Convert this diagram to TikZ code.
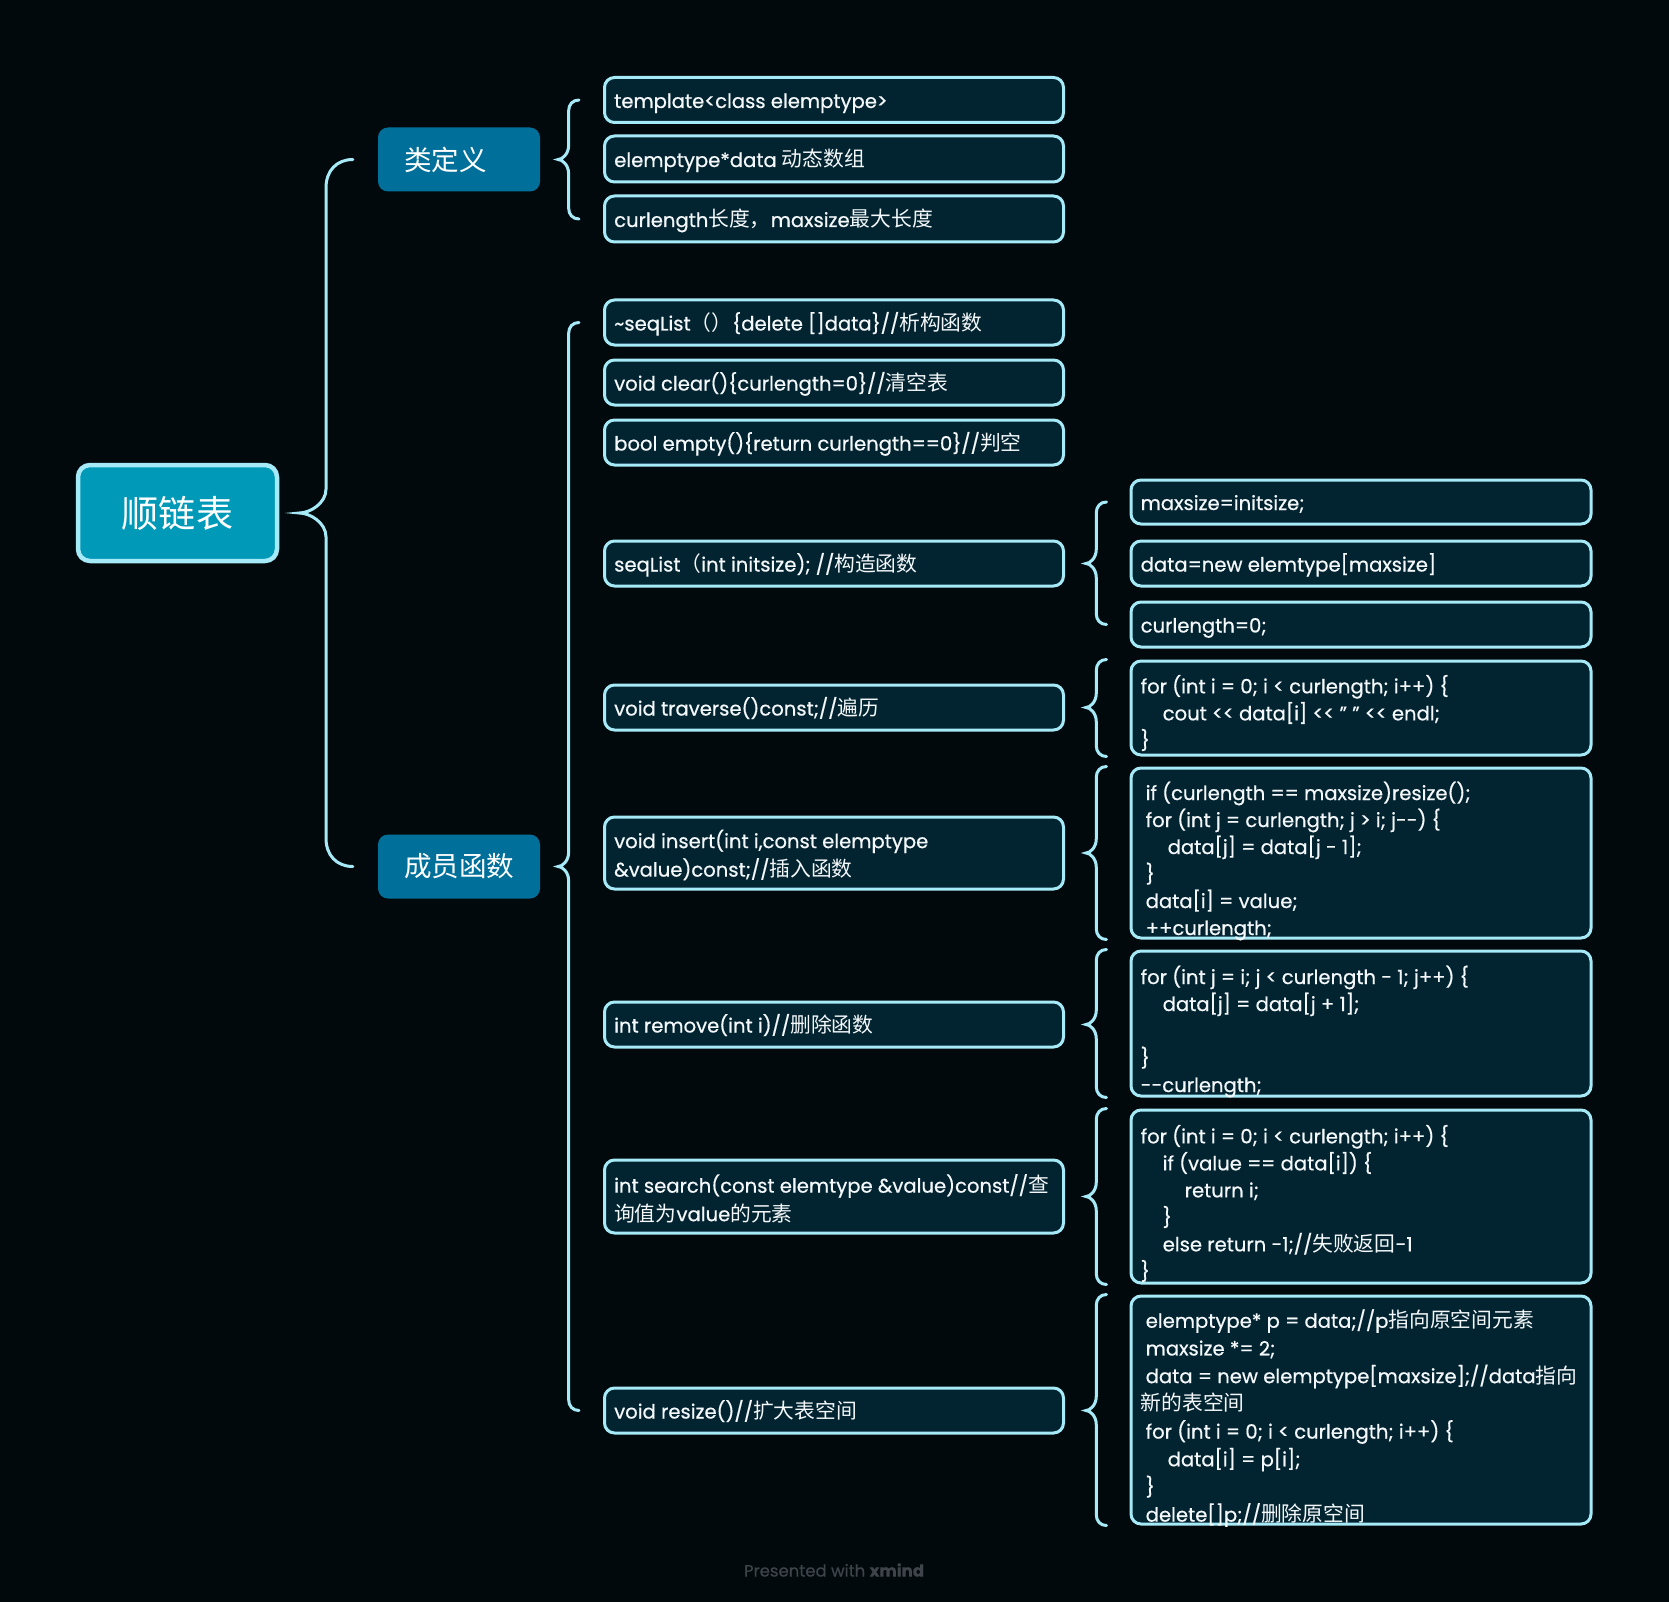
\documentclass[tikz,border=0pt]{standalone}
\usepackage{fontspec}
\setmainfont{Poppins}[FakeBold=0.6]
\newfontfamily\cjk{Noto Sans CJK SC}[Scale=1.06]
\usetikzlibrary{calc}

\definecolor{bg}{HTML}{02090D}
\definecolor{leaffill}{HTML}{022431}
\definecolor{edge}{HTML}{A6EAF8}
\definecolor{rootfill}{HTML}{0099B8}
\definecolor{topicfill}{HTML}{006F99}
\definecolor{ink}{HTML}{F4F8FA}
\definecolor{credit}{HTML}{3E444A}

\newcommand\zh[1]{{\cjk #1}}
\newcommand\codeind{\hspace*{22pt}}
\newcommand\lsp{\hspace*{5pt}}

% curly brace from a parent tip to the first and last child ends
% #1 tip, #2 top end, #3 bottom end, #4 tip curve height, #5 end curve height
\newcommand\bracelink[5]{%
  \draw[brace] let \p1=(#1), \p2=(#2), \p3=(#3), \n1={0.5*(\x1+\x2)} in
    (\p2) .. controls ({\n1+0.4*(\x2-\n1)},\y2) and (\n1,{\y2-0.4*#5pt}) .. (\n1,{\y2-#5pt})
    -- (\n1,{\y1+#4pt}) .. controls (\n1,{\y1+0.4*#4pt}) and ({\x1+0.4*(\n1-\x1)},\y1) .. (\p1)
    .. controls ({\x1+0.4*(\n1-\x1)},\y1) and (\n1,{\y1-0.4*#4pt}) .. (\n1,{\y1-#4pt})
    -- (\n1,{\y3+#5pt}) .. controls (\n1,{\y3+0.4*#5pt}) and ({\n1+0.4*(\x3-\n1)},\y3) .. (\p3);
}

\begin{document}
\begin{tikzpicture}[x=1pt,y=-1pt,
  brace/.style={draw=edge, line width=3pt, line cap=round},
  rootbox/.style={draw=edge, fill=rootfill, line width=4.5pt, rounded corners=12pt,
    minimum width=199pt, minimum height=96pt, text=white,
    font=\cjk\fontsize{35}{40}\selectfont},
  topicbox/.style={fill=topicfill, rounded corners=10pt, minimum width=162pt,
    minimum height=64pt, text=white, align=left, text width=110pt, inner xsep=26pt,
    font=\cjk\fontsize{26}{30}\selectfont},
  leafa/.style={draw=edge, fill=leaffill, line width=3pt, rounded corners=10pt,
    minimum width=459pt, inner sep=0pt},
  leafb/.style={leafa, minimum width=460pt},
  txt/.style={anchor=west, align=left, inner sep=0pt, text=ink,
    font=\fontsize{19.6}{27}\selectfont},
  one/.style={text height=20pt, text depth=4pt},
  two/.style={font=\fontsize{19.6}{28.5}\selectfont, yshift=-2pt},
  code/.style={yshift=-5pt}
]
\useasboundingbox[fill=bg] (0,0) rectangle (1669,1602);

% central topic and main branches
\node[rootbox] (root) at (177.5,513) {顺链表};
\node[topicbox] (topa) at (459,159.5) {类定义};
\node[topicbox] (topb) at (459,866.5) {成员函数};

% class definition items
\node[leafa, minimum height=45pt] (b1) at (834,100) {};
\node[txt, one] (t1) at ([xshift=11pt]b1.west) {template<class elemptype>};
\node[leafa, minimum height=46pt] (b2) at (834,159) {};
\node[txt, one] (t2) at ([xshift=11pt]b2.west) {elemptype*data \zh{动态数组}};
\node[leafa, minimum height=46pt] (b3) at (834,219) {};
\node[txt, one] (t3) at ([xshift=11pt]b3.west) {curlength\zh{长度，}maxsize\zh{最大长度}};

% member functions
\node[leafa, minimum height=45pt] (b4) at (834,322.5) {};
\node[txt, one] (t4) at ([xshift=11pt]b4.west) {\textasciitilde seqList\zh{（）}\{delete []data\}//\zh{析构函数}};
\node[leafa, minimum height=45pt] (b5) at (834,382.5) {};
\node[txt, one] (t5) at ([xshift=11pt]b5.west) {void clear()\{curlength=0\}//\zh{清空表}};
\node[leafa, minimum height=45pt] (b6) at (834,442.5) {};
\node[txt, one] (t6) at ([xshift=11pt]b6.west) {bool empty()\{return curlength==0\}//\zh{判空}};
\node[leafa, minimum height=45pt] (b7) at (834,563.5) {};
\node[txt, one] (t7) at ([xshift=11pt]b7.west) {seqList\zh{（}int initsize); //\zh{构造函数}};
\node[leafa, minimum height=45pt] (b8) at (834,707.5) {};
\node[txt, one] (t8) at ([xshift=11pt]b8.west) {void traverse()const;//\zh{遍历}};
\node[leafa, minimum height=72pt] (b9) at (834,853) {};
\node[txt, two] (t9) at ([xshift=11pt]b9.west) {void insert(int i,const elemptype\\\&value)const;//\zh{插入函数}};
\node[leafa, minimum height=45pt] (b10) at (834,1024.5) {};
\node[txt, one] (t10) at ([xshift=11pt]b10.west) {int remove(int i)//\zh{删除函数}};
\node[leafa, minimum height=73pt] (b11) at (834,1196.5) {};
\node[txt, two] (t11) at ([xshift=11pt]b11.west) {int search(const elemtype \&value)const//\zh{查}\\\zh{询值为}value\zh{的元素}};
\node[leafa, minimum height=45pt] (b12) at (834,1410.5) {};
\node[txt, one] (t12) at ([xshift=11pt]b12.west) {void resize()//\zh{扩大表空间}};

% function bodies
\node[leafb, minimum height=44pt] (c1) at (1361,502) {};
\node[txt, one] (u1) at ([xshift=11pt]c1.west) {maxsize=initsize;};
\node[leafb, minimum height=45pt] (c2) at (1361,563.5) {};
\node[txt, one] (u2) at ([xshift=11pt]c2.west) {data=new elemtype[maxsize]};
\node[leafb, minimum height=45pt] (c3) at (1361,624.5) {};
\node[txt, one] (u3) at ([xshift=11pt]c3.west) {curlength=0;};
\node[leafb, minimum height=94pt] (c4) at (1361,708) {};
\node[txt, code] (u4) at ([xshift=11pt]c4.west) {for (int i = 0; i < curlength; i++) \{\\
  \codeind cout <{}< data[i] <{}< " " <{}< endl;\\
  \}};
\node[leafb, minimum height=170pt] (c5) at (1361,853) {};
\node[txt, code, yshift=-3pt] (u5) at ([xshift=11pt]c5.west) {\lsp if (curlength == maxsize)resize();\\
  \lsp for (int j = curlength; j > i; j-{}-) \{\\
  \lsp\codeind data[j] = data[j - 1];\\
  \lsp \}\\
  \lsp data[i] = value;\\
  \lsp ++curlength;};
\node[leafb, minimum height=145pt] (c6) at (1361,1023.5) {};
\node[txt, code, yshift=-3pt] (u6) at ([xshift=11pt]c6.west) {for (int j = i; j < curlength - 1; j++) \{\\
  \codeind data[j] = data[j + 1];\\
  \mbox{}\\
  \}\\
  -{}-curlength;};
\node[leafb, minimum height=173pt] (c7) at (1361,1196.5) {};
\node[txt, code, yshift=-2pt] (u7) at ([xshift=11pt]c7.west) {for (int i = 0; i < curlength; i++) \{\\
  \codeind if (value == data[i]) \{\\
  \codeind\codeind return i;\\
  \codeind \}\\
  \codeind else return -1;//\zh{失败返回}-1\\
  \}};
\node[leafb, minimum height=228pt] (c8) at (1361,1410) {};
\node[txt, code, yshift=-3pt, font=\fontsize{19.6}{27.7}\selectfont] (u8) at ([xshift=11pt]c8.west) {\lsp elemptype* p = data;//p\zh{指向原空间元素}\\
  \lsp maxsize *= 2;\\
  \lsp data = new elemptype[maxsize];//data\zh{指向}\\
  \zh{新的表空间}\\
  \lsp for (int i = 0; i < curlength; i++) \{\\
  \lsp\codeind data[i] = p[i];\\
  \lsp \}\\
  \lsp delete[]p;//\zh{删除原空间}};

% brace end points
\coordinate (r0) at ($(root.east)+(20,0)$);
\coordinate (r1) at ($(topa.west)+(-25,0)$);
\coordinate (r2) at ($(topb.west)+(-25,0)$);
\coordinate (a0) at ($(topa.east)+(18,0)$);
\coordinate (a1) at ($(b1.west)+(-24,0)$);
\coordinate (a2) at ($(b3.west)+(-24,0)$);
\coordinate (m0) at ($(topb.east)+(18,0)$);
\coordinate (m1) at ($(b4.west)+(-24,0)$);
\coordinate (m2) at ($(b12.west)+(-24,0)$);
\coordinate (s0) at ($(b7.east)+(21,0)$);
\coordinate (s1) at ($(c1.west)+(-23,0)$);
\coordinate (s2) at ($(c3.west)+(-23,0)$);
\foreach \p/\c in {b8/c4, b9/c5, b10/c6, b11/c7, b12/c8} {
  \coordinate (\p-tip) at ($(\p.east)+(21,0)$);
  \coordinate (\c-top) at ($(\c.north west)+(-23,0)$);
  \coordinate (\c-bot) at ($(\c.south west)+(-23,0)$);
}

\bracelink{r0}{r1}{r2}{24}{28}
\bracelink{a0}{a1}{a2}{14}{11}
\bracelink{m0}{m1}{m2}{14}{11}
\bracelink{s0}{s1}{s2}{14}{11}
\bracelink{b8-tip}{c4-top}{c4-bot}{14}{11}
\bracelink{b9-tip}{c5-top}{c5-bot}{14}{11}
\bracelink{b10-tip}{c6-top}{c6-bot}{14}{11}
\bracelink{b11-tip}{c7-top}{c7-bot}{14}{11}
\bracelink{b12-tip}{c8-top}{c8-bot}{14}{11}

\node[text=credit, font=\fontsize{16.5}{20}\selectfont] (mark) at (834,1570) {Presented with \textbf{xmind}};
\end{tikzpicture}
\end{document}
